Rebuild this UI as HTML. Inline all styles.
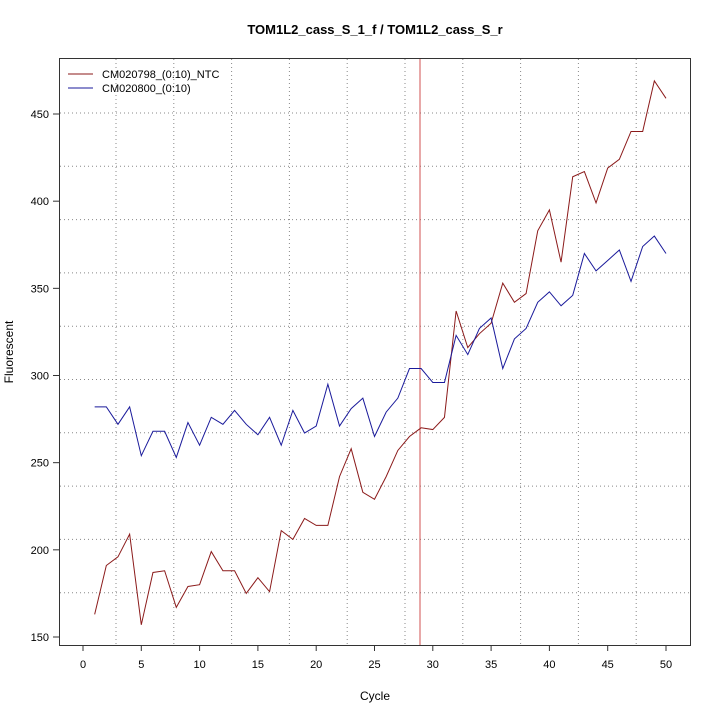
<!DOCTYPE html>
<html><head><meta charset="utf-8"><style>body{margin:0;background:#fff}svg{display:block}text{font-family:"Liberation Sans",sans-serif}</style></head><body>
<svg width="720" height="720" xmlns="http://www.w3.org/2000/svg">
<rect width="720" height="720" fill="#fff"/>
<g stroke="#888" stroke-width="1" stroke-dasharray="1,3" id="grid"></g>
<line x1="420" y1="58" x2="420" y2="645" stroke="#d05050" stroke-width="1"/>
<g id="series"></g>
<rect x="59.5" y="58.5" width="631" height="587" fill="none" stroke="#333" stroke-width="1"/>
<g id="axes" stroke="#333" fill="#000" font-size="11"></g>
<text x="375" y="34" font-size="13" font-weight="bold" text-anchor="middle">TOM1L2_cass_S_1_f / TOM1L2_cass_S_r</text>
<text x="375" y="700" font-size="12" text-anchor="middle">Cycle</text>
<text x="13" y="352" font-size="12" text-anchor="middle" transform="rotate(-90 13 352)">Fluorescent</text>
<line x1="68" y1="74" x2="93" y2="74" stroke="#8b1a1a"/>
<line x1="68" y1="88" x2="93" y2="88" stroke="#1a1a9b"/>
<text x="102" y="78" font-size="11">CM020798_(0:10)_NTC</text>
<text x="102" y="92" font-size="11">CM020800_(0:10)</text>
<script>
var ns="http://www.w3.org/2000/svg";
function X(c){return 83+c*11.66;}function Y(v){return 637-(v-150)*1.7433;}
function el(t,a,p){var e=document.createElementNS(ns,t);for(var k in a)e.setAttribute(k,a[k]);p.appendChild(e);return e;}
var g=document.getElementById('grid');
for(var i=0;i<10;i++){var y=113+i*53.3;el('line',{x1:60,x2:690,y1:y,y2:y},g);var x=116+i*57.8;el('line',{x1:x,x2:x,y1:59,y2:645},g);}
var a=document.getElementById('axes');
for(var c=0;c<=50;c+=5){el('line',{x1:X(c),x2:X(c),y1:645,y2:651},a);var t=el('text',{x:X(c),y:668,'text-anchor':'middle',stroke:'none'},a);t.textContent=c;}
for(var v=150;v<=450;v+=50){el('line',{x1:53,x2:59,y1:Y(v),y2:Y(v)},a);var t=el('text',{x:49,y:Y(v)+4,'text-anchor':'end',stroke:'none'},a);t.textContent=v;}
var r=[163,191,196,209,157,187,188,167,179,180,199,188,188,175,184,176,211,206,218,214,214,242,258,233,229,242,257,265,270,269,276,337,316,324,330,353,342,347,383,395,365,414,417,399,419,424,440,440,469,459];
var b=[282,282,272,282,254,268,268,253,273,260,276,272,280,272,266,276,260,280,267,271,295,271,281,287,265,279,287,304,304,296,296,323,312,327,333,304,321,327,342,348,340,346,370,360,366,372,354,374,380,370];
var s=document.getElementById('series');
function pl(d,col){el('polyline',{points:d.map(function(v,i){return X(i+1)+','+Y(v)}).join(' '),fill:'none',stroke:col,'stroke-width':1},s);}
pl(r,'#8b1a1a');pl(b,'#1a1a9b');
</script>
</svg></body></html>
